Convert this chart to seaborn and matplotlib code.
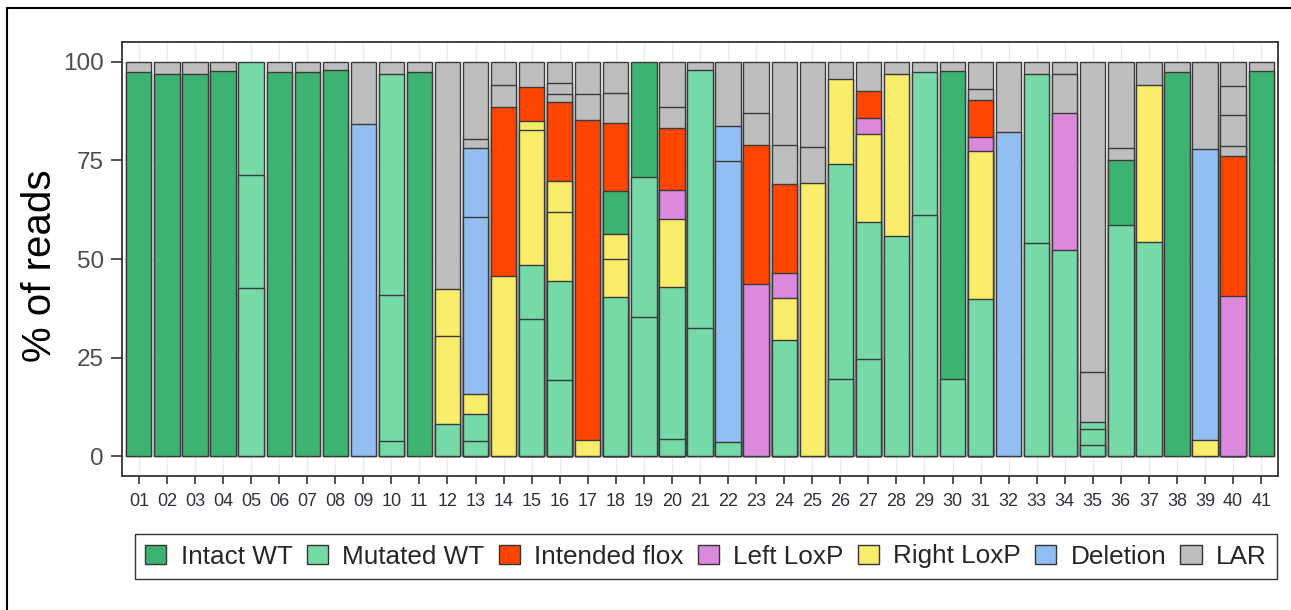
import numpy as np
import pandas as pd
import matplotlib
matplotlib.use("Agg")
import matplotlib.pyplot as plt
from matplotlib.patches import Patch
from matplotlib.lines import Line2D
import seaborn as sns

# ---------------- data ----------------
samples = [f"{i:02d}" for i in range(1, 42)]

categories = ["Intact WT", "Mutated WT", "Intended flox", "Left LoxP",
              "Right LoxP", "Deletion", "LAR"]
codes = ["IWT", "MWT", "FLX", "LLP", "RLP", "DEL", "LAR"]
colors = ["#3CB371", "#76D9A8", "#FF4500", "#DB88DD", "#F8EC6A", "#93BEF1", "#BEBEBE"]

# allele segments per sample, bottom to top (category code, % of reads)
seg_cats = [
    ["IWT", "LAR"],                                          # 01
    ["IWT", "LAR"],                                          # 02
    ["IWT", "LAR"],                                          # 03
    ["IWT", "LAR"],                                          # 04
    ["MWT", "MWT", "MWT"],                                   # 05
    ["IWT", "LAR"],                                          # 06
    ["IWT", "LAR"],                                          # 07
    ["IWT", "LAR"],                                          # 08
    ["DEL", "LAR"],                                          # 09
    ["MWT", "MWT", "MWT", "LAR"],                            # 10
    ["IWT", "LAR"],                                          # 11
    ["MWT", "RLP", "RLP", "LAR"],                            # 12
    ["MWT", "MWT", "RLP", "DEL", "DEL", "LAR", "LAR"],       # 13
    ["RLP", "FLX", "LAR", "LAR"],                            # 14
    ["MWT", "MWT", "RLP", "RLP", "FLX", "LAR"],              # 15
    ["MWT", "MWT", "RLP", "RLP", "FLX", "LAR", "LAR", "LAR"], # 16
    ["RLP", "FLX", "LAR", "LAR"],                            # 17
    ["MWT", "RLP", "RLP", "IWT", "FLX", "LAR", "LAR"],       # 18
    ["MWT", "MWT", "IWT"],                                   # 19
    ["MWT", "MWT", "RLP", "LLP", "FLX", "LAR", "LAR"],       # 20
    ["MWT", "MWT", "LAR"],                                   # 21
    ["MWT", "DEL", "DEL", "LAR"],                            # 22
    ["LLP", "FLX", "LAR", "LAR"],                            # 23
    ["MWT", "RLP", "LLP", "FLX", "LAR", "LAR"],              # 24
    ["RLP", "LAR", "LAR"],                                   # 25
    ["MWT", "MWT", "RLP", "LAR"],                            # 26
    ["MWT", "MWT", "RLP", "LLP", "FLX", "LAR"],              # 27
    ["MWT", "RLP", "LAR"],                                   # 28
    ["MWT", "MWT", "LAR"],                                   # 29
    ["MWT", "IWT", "LAR"],                                   # 30
    ["MWT", "RLP", "LLP", "FLX", "LAR", "LAR"],              # 31
    ["DEL", "LAR"],                                          # 32
    ["MWT", "MWT", "LAR"],                                   # 33
    ["MWT", "LLP", "LAR", "LAR"],                            # 34
    ["MWT", "MWT", "MWT", "LAR", "LAR"],                     # 35
    ["MWT", "IWT", "LAR", "LAR"],                            # 36
    ["MWT", "RLP", "LAR"],                                   # 37
    ["IWT", "LAR"],                                          # 38
    ["RLP", "DEL", "LAR"],                                   # 39
    ["LLP", "FLX", "LAR", "LAR", "LAR", "LAR"],              # 40
    ["IWT", "LAR"],                                          # 41
]
seg_vals = [
    [97.5, 2.5],                                   # 01
    [97.0, 3.0],                                   # 02
    [97.0, 3.0],                                   # 03
    [97.7, 2.3],                                   # 04
    [42.6, 28.6, 28.8],                            # 05
    [97.5, 2.5],                                   # 06
    [97.5, 2.5],                                   # 07
    [97.8, 2.2],                                   # 08
    [84.1, 15.9],                                  # 09
    [3.8, 37.1, 56.1, 3.0],                        # 10
    [97.3, 2.7],                                   # 11
    [8.1, 22.4, 12.0, 57.5],                       # 12
    [3.8, 6.8, 5.3, 44.7, 17.6, 2.3, 19.5],        # 13
    [45.8, 42.6, 5.7, 5.9],                        # 14
    [34.9, 13.7, 34.2, 2.2, 8.6, 6.4],             # 15
    [19.3, 25.2, 17.4, 7.8, 20.0, 2.2, 2.6, 5.5],  # 16
    [4.1, 81.2, 6.6, 8.1],                         # 17
    [40.3, 9.7, 6.4, 10.8, 17.3, 7.7, 7.8],        # 18
    [35.3, 35.6, 29.1],                            # 19
    [4.5, 38.3, 17.4, 7.2, 15.7, 5.5, 11.4],       # 20
    [32.5, 65.4, 2.1],                             # 21
    [3.6, 71.2, 8.8, 16.4],                        # 22
    [43.6, 35.2, 8.1, 13.1],                       # 23
    [29.4, 10.7, 6.3, 22.7, 9.7, 21.2],            # 24
    [69.3, 9.1, 21.6],                             # 25
    [19.7, 54.5, 21.3, 4.5],                       # 26
    [24.7, 34.8, 22.1, 4.2, 6.8, 7.4],             # 27
    [55.8, 41.0, 3.2],                             # 28
    [61.2, 36.1, 2.7],                             # 29
    [19.7, 77.9, 2.4],                             # 30
    [39.8, 37.7, 3.4, 9.4, 2.7, 7.0],              # 31
    [82.2, 17.8],                                  # 32
    [54.0, 42.9, 3.1],                             # 33
    [52.3, 34.8, 9.9, 3.0],                        # 34
    [2.8, 4.0, 1.9, 12.7, 78.6],                   # 35
    [58.5, 16.5, 3.2, 21.8],                       # 36
    [54.4, 39.8, 5.8],                             # 37
    [97.3, 2.7],                                   # 38
    [4.0, 74.0, 22.0],                             # 39
    [40.5, 35.6, 2.5, 7.8, 7.4, 6.2],              # 40
    [97.6, 2.4],                                   # 41
]
y_ticks = [0, 25, 50, 75, 100]

# ---------------- long table ----------------
code_to_cat = dict(zip(codes, categories))
rows = []
for s, cats, vals in zip(samples, seg_cats, seg_vals):
    tops = np.cumsum(vals)
    for k, (c, t) in enumerate(zip(cats, tops)):
        rows.append({"sample": s, "category": code_to_cat[c], "layer": k, "top": t})
df = pd.DataFrame(rows)

# ---------------- figure ----------------
sns.set_style("white")
plt.rcParams["font.family"] = ["Liberation Sans", "DejaVu Sans"]

W, H = 1291, 610
fig = plt.figure(figsize=(W / 100, H / 100), dpi=100)
ax = fig.add_axes([122 / W, (H - 476) / H, (1278 - 122) / W, (476 - 42) / H])

palette = dict(zip(categories, colors))
for layer in sorted(df["layer"].unique(), reverse=True):
    sub = df[df["layer"] == layer]
    sns.barplot(data=sub, x="sample", y="top", order=samples,
                hue="category", hue_order=categories, palette=palette,
                dodge=False, width=0.9, errorbar=None, legend=False,
                edgecolor="#3a3a3a", linewidth=1.0, saturation=1, ax=ax)

ax.set_xlim(-0.6, len(samples) - 0.4)
ax.set_ylim(-5, 105)
ax.set_yticks(y_ticks)
ax.set_yticklabels([str(v) for v in y_ticks])
ax.set_xticks(range(len(samples)))
ax.set_xticklabels(samples)
ax.set_axisbelow(True)
ax.grid(True, color="#EBEBEB", linewidth=1.0)
ax.set_xlabel("")
ax.set_ylabel("% of reads", fontsize=29, color="black")
ax.yaxis.set_label_coords(-0.0709, 0.484)
ax.yaxis.label.set_verticalalignment("center")

for sp in ax.spines.values():
    sp.set_visible(True)
    sp.set_color("#333333")
    sp.set_linewidth(1.3)

ax.tick_params(axis="y", which="major", length=8, width=1.2, color="#333333",
               labelsize=17.5, labelcolor="#4D4D4D", pad=5, left=True)
ax.tick_params(axis="x", which="major", length=6, width=1.2, color="#333333",
               labelsize=13, labelcolor="#30303a", pad=6, bottom=True)

handles = [Patch(facecolor=c, edgecolor="#333333", linewidth=1.0) for c in colors]
leg = fig.legend(handles, categories, ncol=7, loc="center",
                 bbox_to_anchor=(706 / W, (H - 556.5) / H),
                 frameon=True, fancybox=False, edgecolor="black",
                 handlelength=0.81, handleheight=0.73, handletextpad=0.55,
                 columnspacing=0.54, borderpad=0.4, fontsize=18.8)
leg.get_frame().set_linewidth(1.0)

# outer frame lines (left and top)
fig.add_artist(Line2D([7 / W, 7 / W], [0, 1 - 8 / H], color="black", linewidth=1.5,
                      transform=fig.transFigure))
fig.add_artist(Line2D([7 / W, 1], [1 - 8 / H, 1 - 8 / H], color="black", linewidth=1.5,
                      transform=fig.transFigure))

fig.savefig("out.png", dpi=100)
